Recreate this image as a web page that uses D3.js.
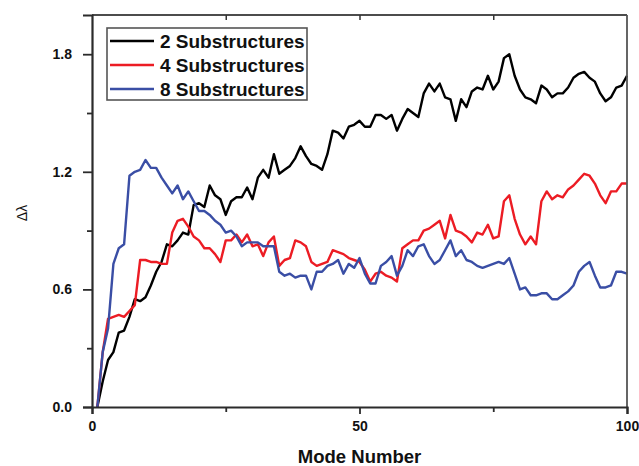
<!DOCTYPE html>
<html>
<head>
<meta charset="utf-8">
<script src="https://cdn.jsdelivr.net/npm/d3@7"></script>
<style>
  html, body { margin: 0; padding: 0; background: #fff; }
  svg { display: block; font-family: Arial, "Liberation Sans", sans-serif; }
</style>
</head>
<body>
<svg id="chart" width="639" height="466"></svg>
<script>
// Mode numbers 1..100 and the Δλ values for each substructure count
const modes = d3.range(1, 101);

const sub2 = [
  0.00,0.13,0.24,0.28,0.38,0.39,0.46,0.55,0.54,0.56,
  0.62,0.69,0.74,0.83,0.82,0.85,0.89,0.88,1.03,1.04,
  1.02,1.13,1.08,1.06,0.98,1.05,1.07,1.07,1.12,1.06,
  1.17,1.21,1.17,1.29,1.19,1.21,1.23,1.27,1.33,1.28,
  1.24,1.23,1.21,1.29,1.41,1.40,1.37,1.43,1.44,1.46,
  1.43,1.43,1.49,1.49,1.47,1.49,1.41,1.47,1.52,1.50,
  1.48,1.60,1.65,1.61,1.65,1.58,1.57,1.46,1.57,1.53,
  1.61,1.63,1.62,1.69,1.62,1.66,1.78,1.80,1.69,1.62,
  1.58,1.57,1.55,1.64,1.62,1.58,1.60,1.60,1.63,1.68,
  1.70,1.71,1.68,1.66,1.60,1.56,1.58,1.63,1.64,1.69
];

const sub4 = [
  0.00,0.28,0.45,0.46,0.47,0.46,0.49,0.52,0.75,0.75,
  0.74,0.74,0.73,0.73,0.89,0.95,0.96,0.92,0.87,0.85,
  0.81,0.81,0.78,0.74,0.85,0.85,0.88,0.84,0.88,0.82,
  0.83,0.77,0.84,0.87,0.72,0.75,0.76,0.85,0.84,0.82,
  0.74,0.72,0.73,0.74,0.80,0.79,0.78,0.76,0.75,0.74,
  0.70,0.64,0.68,0.69,0.67,0.66,0.64,0.81,0.83,0.85,
  0.85,0.90,0.91,0.93,0.95,0.86,0.98,0.90,0.89,0.87,
  0.84,0.89,0.88,0.93,0.86,0.87,1.05,1.08,0.96,0.88,
  0.83,0.87,0.83,1.05,1.10,1.06,1.08,1.07,1.11,1.13,
  1.16,1.19,1.18,1.14,1.08,1.04,1.10,1.10,1.14,1.14
];

const sub8 = [
  0.00,0.28,0.40,0.73,0.81,0.83,1.18,1.20,1.21,1.26,
  1.22,1.22,1.17,1.13,1.09,1.13,1.06,1.10,1.05,1.00,
  1.00,0.98,0.95,0.93,0.89,0.90,0.87,0.82,0.84,0.84,
  0.84,0.82,0.82,0.82,0.69,0.67,0.68,0.66,0.67,0.67,
  0.60,0.69,0.69,0.72,0.73,0.75,0.68,0.73,0.71,0.76,
  0.68,0.63,0.63,0.72,0.74,0.77,0.67,0.72,0.80,0.77,
  0.82,0.83,0.77,0.73,0.75,0.80,0.85,0.77,0.80,0.75,
  0.74,0.72,0.71,0.72,0.73,0.74,0.73,0.76,0.68,0.60,
  0.61,0.57,0.57,0.58,0.58,0.55,0.55,0.57,0.59,0.62,
  0.69,0.72,0.74,0.67,0.61,0.61,0.62,0.69,0.69,0.68
];

const seriesNames = ["2 Substructures", "4 Substructures", "8 Substructures"];
const seriesColors = ["#000000", "#ec1c24", "#3a4ea5"];
const seriesValues = [sub2, sub4, sub8];

const xMajorTicks = [0, 50, 100];
const xMinorTicks = [25, 75];
const yMajorTicks = [0, 0.6, 1.2, 1.8];
const yMinorTicks = [0.3, 0.9, 1.5];

const xTitle = "Mode Number";
const yTitle = "\u0394\u03bb";

// Layout
const plot = { left: 92, right: 627, top: 15, bottom: 407 };
const svg = d3.select("#chart");

const x = d3.scaleLinear().domain([0, 100]).range([plot.left, plot.right]);
const y = d3.scaleLinear().domain([0, 2.0]).range([plot.bottom, plot.top]);

const axisColor = "#2b2b2b";

// Data lines (drawn first so the frame sits on top)
const line = d3.line()
  .x((d, i) => x(modes[i]))
  .y(d => y(d));

const g = svg.append("g");
seriesValues.forEach((vals, k) => {
  g.append("path")
    .datum(vals)
    .attr("fill", "none")
    .attr("stroke", seriesColors[k])
    .attr("stroke-width", 2.4)
    .attr("stroke-linejoin", "round")
    .attr("d", line);
});

// Frame: top and right edges
svg.append("line")
  .attr("x1", plot.left).attr("x2", plot.right)
  .attr("y1", plot.top).attr("y2", plot.top)
  .attr("stroke", "#111").attr("stroke-width", 1.6);
svg.append("line")
  .attr("x1", plot.right).attr("x2", plot.right)
  .attr("y1", plot.top).attr("y2", plot.bottom)
  .attr("stroke", "#555").attr("stroke-width", 1.8);

function styleAxis(sel) {
  sel.select(".domain").attr("stroke", axisColor).attr("stroke-width", 2.2);
  sel.selectAll(".tick line").attr("stroke", axisColor).attr("stroke-width", 1.8);
  sel.selectAll(".tick text")
    .attr("fill", "#111")
    .attr("font-weight", "bold")
    .attr("font-size", "14px");
}

// Bottom axis: major ticks with labels, minor ticks without
const xAxis = svg.append("g")
  .attr("transform", `translate(0,${plot.bottom})`)
  .call(d3.axisBottom(x).tickValues(xMajorTicks).tickSize(7).tickPadding(7).tickFormat(d3.format("d")));
styleAxis(xAxis);
svg.append("g")
  .attr("transform", `translate(0,${plot.bottom})`)
  .call(d3.axisBottom(x).tickValues(xMinorTicks).tickSize(5).tickFormat(""))
  .call(s => s.select(".domain").remove())
  .call(s => s.selectAll(".tick line").attr("stroke", axisColor).attr("stroke-width", 1.8));

// Top axis ticks point inward
svg.append("g")
  .attr("transform", `translate(0,${plot.top})`)
  .call(d3.axisBottom(x).tickValues(xMinorTicks.concat([50])).tickSize(5).tickFormat(""))
  .call(s => s.select(".domain").remove())
  .call(s => s.selectAll(".tick line").attr("stroke", "#333").attr("stroke-width", 1.5));

// Left axis
const yAxis = svg.append("g")
  .attr("transform", `translate(${plot.left},0)`)
  .call(d3.axisLeft(y).tickValues(yMajorTicks).tickSize(9).tickPadding(11).tickFormat(d3.format(".1f")));
styleAxis(yAxis);
svg.append("g")
  .attr("transform", `translate(${plot.left},0)`)
  .call(d3.axisLeft(y).tickValues(yMinorTicks).tickSize(5).tickFormat(""))
  .call(s => s.select(".domain").remove())
  .call(s => s.selectAll(".tick line").attr("stroke", axisColor).attr("stroke-width", 1.8));

// Axis titles
svg.append("text")
  .attr("x", (plot.left + plot.right) / 2)
  .attr("y", 463)
  .attr("text-anchor", "middle")
  .attr("font-size", "18.5px")
  .attr("font-weight", "bold")
  .attr("fill", "#111")
  .text(xTitle);

svg.append("text")
  .attr("transform", `translate(27,${(plot.top + plot.bottom) / 2 + 2}) rotate(-90)`)
  .attr("text-anchor", "middle")
  .attr("font-size", "14px")
  .attr("fill", "#111")
  .text(yTitle);

// Legend
const legend = svg.append("g").attr("transform", "translate(107,28)");
legend.append("rect")
  .attr("width", 200).attr("height", 72)
  .attr("fill", "#fff")
  .attr("stroke", "#555").attr("stroke-width", 1.6);
seriesNames.forEach((name, k) => {
  const cy = 13 + k * 24;
  legend.append("line")
    .attr("x1", 3).attr("x2", 47)
    .attr("y1", cy).attr("y2", cy)
    .attr("stroke", seriesColors[k]).attr("stroke-width", 2.4);
  legend.append("text")
    .attr("x", 53).attr("y", cy + 7)
    .attr("font-size", "19px")
    .attr("font-weight", "bold")
    .attr("fill", "#111")
    .text(name);
});
</script>
</body>
</html>
